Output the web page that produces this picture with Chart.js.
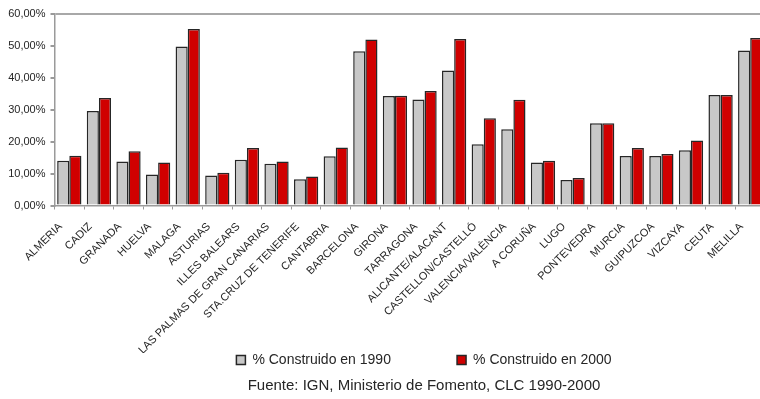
<!DOCTYPE html>
<html>
<head>
<meta charset="utf-8">
<script src="https://cdn.jsdelivr.net/npm/chart.js@4/dist/chart.umd.min.js"></script>
<style>
  html, body { margin: 0; padding: 0; background: #ffffff; overflow: hidden; }
  #wrap { width: 848px; height: 399px; position: relative; }
</style>
</head>
<body>
<div id="wrap"><canvas id="c"></canvas></div>
<script>
// Share of built-up land per province, 1990 vs 2000 (%)
const provinces = [
  'ALMERIA', 'CADIZ', 'GRANADA', 'HUELVA', 'MALAGA', 'ASTURIAS', 'ILLES BALEARS',
  'LAS PALMAS DE GRAN CANARIAS', 'STA.CRUZ DE TENERIFE', 'CANTABRIA', 'BARCELONA',
  'GIRONA', 'TARRAGONA', 'ALICANTE/ALACANT', 'CASTELLON/CASTELLÓ', 'VALENCIA/VALÈNCIA',
  'A CORUÑA', 'LUGO', 'PONTEVEDRA', 'MURCIA', 'GUIPUZCOA', 'VIZCAYA', 'CEUTA', 'MELILLA'
];
const built1990 = [
  14.0, 29.6, 13.8, 9.7, 49.8, 9.4, 14.3,
  13.1, 8.2, 15.4, 48.3,
  34.3, 33.2, 42.3, 19.2, 23.9,
  13.5, 8.0, 25.8, 15.5, 15.5, 17.3, 34.6, 48.6
];
const built2000 = [
  15.6, 33.7, 17.0, 13.5, 55.3, 10.3, 18.0,
  13.8, 9.1, 18.2, 52.0,
  34.4, 35.9, 52.2, 27.3, 33.1,
  14.0, 8.6, 25.8, 18.0, 16.1, 20.4, 34.6, 52.5
];
const seriesNames = ['% Construido en 1990', '% Construido en 2000'];
const sourceNote = 'Fuente: IGN, Ministerio de Fomento, CLC 1990-2000';
const yMax = 60;
const yStep = 10;

const FONT = '"Liberation Sans", Arial, Helvetica, sans-serif';
const AXIS_GREY = '#9a9a9a';
const TEXT = '#262626';
const NBSP = '\u00a0';

new Chart(document.getElementById('c'), {
  type: 'bar',
  data: {
    labels: provinces,
    datasets: [
      {
        label: seriesNames[0],
        data: built1990,
        backgroundColor: '#c8c8c8',
        borderColor: '#262626',
        borderWidth: 1.5
      },
      {
        label: seriesNames[1],
        data: built2000,
        backgroundColor: '#d00000',
        borderColor: '#262626',
        borderWidth: 1.5
      }
    ]
  },
  options: {
    responsive: true,
    maintainAspectRatio: false,
    animation: false,
    layout: { padding: { top: 14, left: 0, right: 0, bottom: 4 } },
    datasets: {
      bar: { barPercentage: 1.0, categoryPercentage: 0.82 }
    },
    scales: {
      x: {
        offset: true,
        grid: {
          display: true,
          drawOnChartArea: false,
          drawTicks: true,
          tickLength: 4,
          tickColor: AXIS_GREY,
          offset: true
        },
        border: { display: true, color: AXIS_GREY, width: 1.5 },
        ticks: {
          autoSkip: false,
          maxRotation: 45,
          minRotation: 45,
          padding: 2,
          color: TEXT,
          font: { family: FONT, size: 11 },
          // trailing gap keeps each slanted label clear of its tick
          callback: function (value) { return this.getLabelForValue(value) + NBSP.repeat(4); }
        },
        afterFit: (scale) => { scale.height = 147.5; }
      },
      y: {
        min: 0,
        max: yMax,
        ticks: {
          stepSize: yStep,
          padding: 5,
          color: TEXT,
          font: { family: FONT, size: 11 },
          callback: (v) => v.toFixed(2).replace('.', ',') + '%'
        },
        grid: {
          drawTicks: true,
          tickLength: 4,
          tickColor: AXIS_GREY,
          lineWidth: 2,
          color: (ctx) => (ctx.tick && ctx.tick.value === yMax) ? '#a8a8a8' : 'rgba(0,0,0,0)'
        },
        border: { display: true, color: AXIS_GREY, width: 1.5 },
        afterFit: (scale) => { scale.width = 54.5; }
      },
      // empty margin on the right side of the plot
      yr: {
        type: 'linear',
        position: 'right',
        display: true,
        grid: { display: false, drawTicks: false },
        border: { display: false },
        ticks: { display: false },
        afterFit: (scale) => { scale.width = 83; }
      }
    },
    plugins: {
      legend: {
        position: 'bottom',
        labels: {
          boxWidth: 9,
          boxHeight: 9,
          padding: 0,
          color: TEXT,
          font: { family: FONT, size: 14 },
          generateLabels: (chart) => {
            const items = Chart.defaults.plugins.legend.labels.generateLabels(chart);
            // spacing between the two legend entries
            items[0].text += NBSP.repeat(17);
            return items;
          }
        }
      },
      title: {
        display: true,
        position: 'bottom',
        text: sourceNote,
        color: TEXT,
        font: { family: FONT, size: 15, weight: 'normal' },
        padding: { top: 0, bottom: 0 }
      },
      tooltip: { enabled: false }
    }
  }
});
</script>
</body>
</html>
